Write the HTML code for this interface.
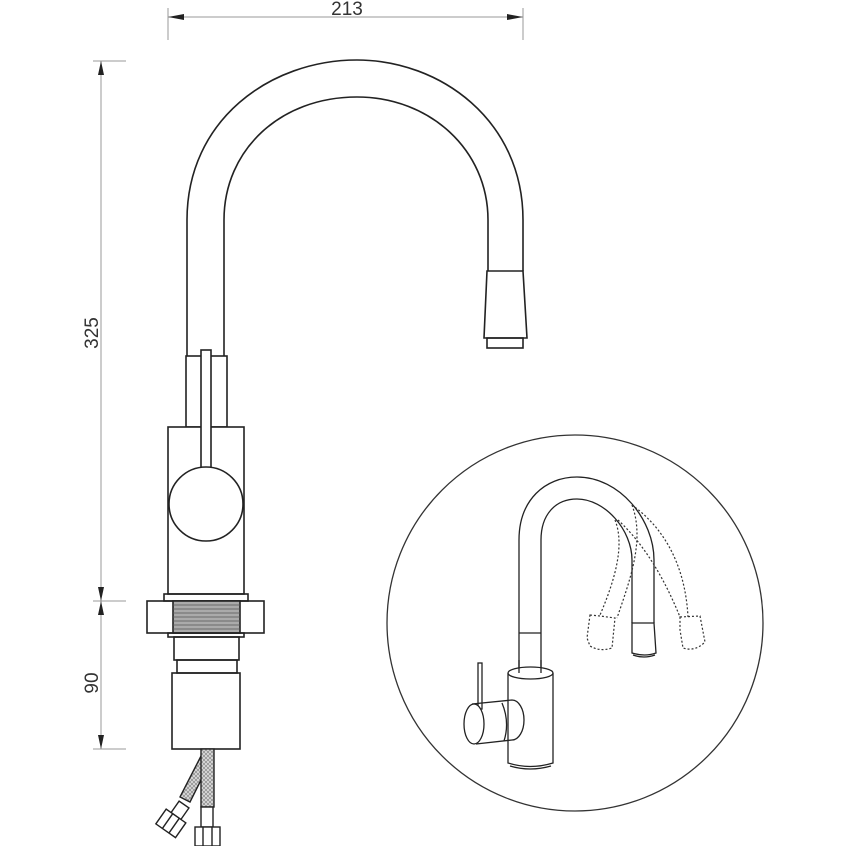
<!DOCTYPE html>
<html><head><meta charset="utf-8"><style>
html,body{margin:0;padding:0;background:#fff;}
svg{display:block;}
text{font-family:"Liberation Sans",sans-serif;fill:#333;}
</style></head><body>
<svg width="846" height="846" viewBox="0 0 846 846" xmlns="http://www.w3.org/2000/svg">
<defs>
<pattern id="braid" width="4" height="4" patternUnits="userSpaceOnUse">
<rect width="4" height="4" fill="#ddd"/><path d="M0 0L4 4M4 0L0 4" stroke="#888" stroke-width="0.7"/>
</pattern>
</defs>
<g fill="none" stroke="#999" stroke-width="1">
<line x1="168" y1="17" x2="523" y2="17"/>
<line x1="168" y1="8" x2="168" y2="40"/>
<line x1="523" y1="8" x2="523" y2="40"/>
<line x1="101" y1="61" x2="101" y2="749"/>
<line x1="93" y1="61" x2="126" y2="61"/>
<line x1="93" y1="601" x2="126" y2="601"/>
<line x1="93" y1="749" x2="126" y2="749"/>
<line x1="173" y1="567" x2="239" y2="567"/>
<line x1="173" y1="553" x2="173" y2="594"/>
<line x1="239" y1="553" x2="239" y2="594"/>
</g>
<g fill="#222">
<path d="M168 17l16 -3v6z"/><path d="M523 17l-16 -3v6z"/>
<path d="M101 61l-3 14h6z"/><path d="M101 601l-3 -14h6z"/>
<path d="M101 601l-3 14h6z"/><path d="M101 749l-3 -14h6z"/>
<path d="M173 567l14 -3v6z"/><path d="M239 567l-14 -3v6z"/>
</g>
<text x="347" y="15" font-size="19" text-anchor="middle">213</text>
<text x="206" y="563" font-size="19" text-anchor="middle">35</text>
<text transform="translate(98,333) rotate(-90)" font-size="19" text-anchor="middle">325</text>
<text transform="translate(98,683) rotate(-90)" font-size="19" text-anchor="middle">90</text>

<g fill="none" stroke="#222" stroke-width="1.6">
<path d="M187 427 L187 220 C187 120 270 60 357 60 C440 60 523 120 523 220 L523 271"/>
<path d="M224 356 L224 220 C224 150 280 97 357 97 C430 97 488 150 488 220 L488 271"/>
<path d="M487 271 H523 L527 338 H484 Z"/>
<rect x="487" y="338" width="36" height="10"/>
<rect x="186" y="356" width="41" height="71" fill="#fff"/>
<rect x="168" y="427" width="76" height="167" fill="#fff"/>
<rect x="201" y="350" width="10" height="120" fill="#fff"/>
<circle cx="206" cy="504" r="37" fill="#fff"/>
<rect x="164" y="594" width="84" height="7"/>
<rect x="147" y="601" width="117" height="32"/>
<rect x="173" y="601" width="67" height="32" fill="#aaa"/>
<rect x="168" y="633" width="76" height="4"/>
<rect x="174" y="637" width="65" height="23"/>
<rect x="177" y="660" width="60" height="13"/>
<rect x="172" y="673" width="68" height="76"/>
</g>
<g stroke="#555" stroke-width="0.8">
<line x1="173" y1="605" x2="240" y2="605"/><line x1="173" y1="609" x2="240" y2="609"/>
<line x1="173" y1="613" x2="240" y2="613"/><line x1="173" y1="617" x2="240" y2="617"/>
<line x1="173" y1="621" x2="240" y2="621"/><line x1="173" y1="625" x2="240" y2="625"/>
<line x1="173" y1="629" x2="240" y2="629"/>
</g>
<g stroke="#222" stroke-width="1.4">
<path d="M201 756 L210 762 L190 802 L180 797 Z" fill="url(#braid)"/>
<rect x="201" y="749" width="13" height="58" fill="url(#braid)"/>
<rect x="201" y="807" width="12" height="20" fill="#fff"/>
<rect x="195" y="827" width="25" height="19" fill="#fff"/>
<line x1="203" y1="827" x2="203" y2="846"/><line x1="212" y1="827" x2="212" y2="846"/>
<g transform="translate(176,816) rotate(35)">
<rect x="-6" y="-14" width="12" height="14" fill="#fff"/>
<rect x="-12" y="0" width="24" height="18" fill="#fff"/>
<line x1="-4" y1="0" x2="-4" y2="18"/><line x1="4" y1="0" x2="4" y2="18"/>
</g>
</g>

<circle cx="575" cy="623" r="188" fill="none" stroke="#333" stroke-width="1.3"/>
<g fill="none" stroke="#222" stroke-width="1.3">
<path d="M519 673 L519 540 C519 500 545 477 577 477 C620 477 654 520 654 560 L654 623"/>
<path d="M541 673 L541 540 C541 515 555 499 577 499 C605 499 632 530 632 560 L632 623"/>
<line x1="519" y1="633" x2="541" y2="633"/>
<path d="M632 623 H654 L656 653 Q645 657 632 653 Z"/>
<path d="M633 655 Q644 659 655 655"/>
<path d="M508 673 L508 763 Q530 770 553 763 L553 673"/>
<ellipse cx="530.5" cy="673" rx="22.5" ry="6" fill="#fff"/>
<path d="M519 673 L519 660 M541 673 L541 660"/>
<path d="M510 766 Q530 772 551 766"/>
<rect x="478" y="663" width="4" height="46" fill="#fff"/>
<path d="M472 704 L512 700 A12 20 0 0 1 512 740 L476 744"/>
<ellipse cx="474" cy="724" rx="10" ry="20" fill="#fff"/>
<path d="M502 703 Q510 722 504 741"/>
</g>
<g fill="none" stroke="#333" stroke-width="1.2" stroke-dasharray="2 2">
<path d="M615 520 C625 545 615 580 600 615"/>
<path d="M632 505 C645 540 630 580 617 618"/>
<path d="M590 615 L600 616 L615 618 L612 648 Q600 652 590 646 L587 638 Z"/>
<path d="M632 505 C660 525 685 560 688 617"/>
<path d="M618 520 C645 545 665 580 680 617"/>
<path d="M680 617 L700 616 L705 642 Q695 652 683 648 L680 630 Z"/>
</g>
</svg>
</body></html>
